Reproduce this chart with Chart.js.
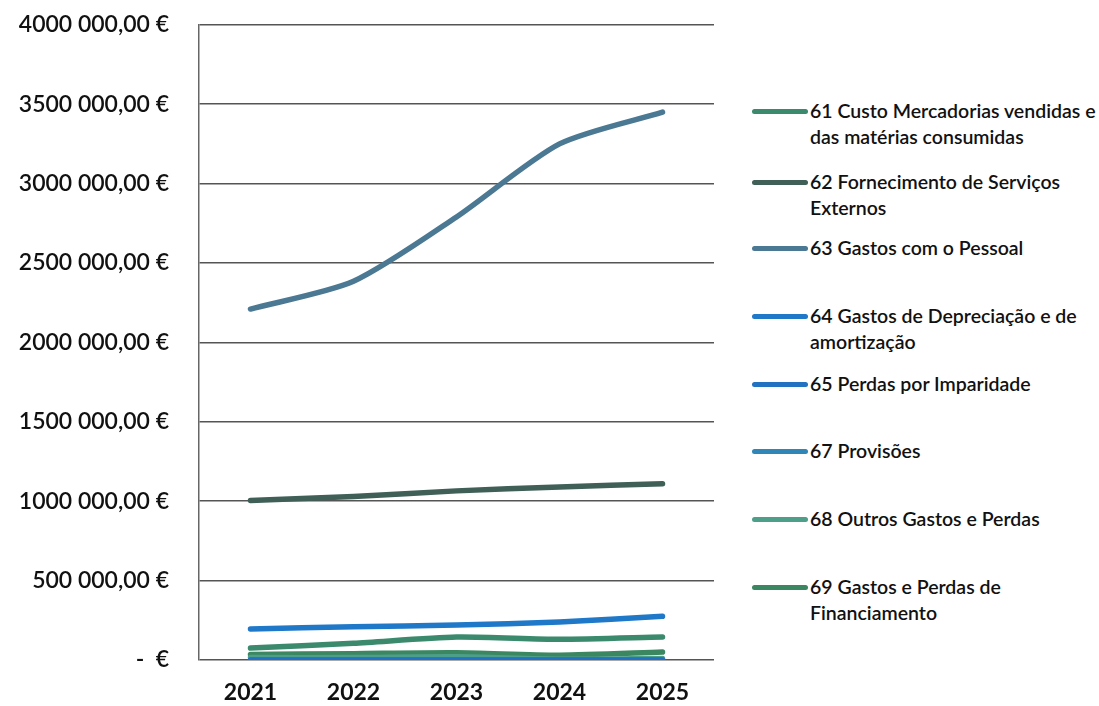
<!DOCTYPE html>
<html>
<head>
<meta charset="utf-8">
<script src="https://cdn.jsdelivr.net/npm/chart.js@4"></script>
<style>
  html, body { margin: 0; padding: 0; background: #fff; overflow: hidden; }
  #wrap { position: relative; width: 1099px; height: 706px; overflow: hidden; }
  #box { position: absolute; left: 0; top: -19px; width: 740px; height: 725px; }
  #legend { position: absolute; left: 752px; top: 0; width: 347px; font-family: Lato, sans-serif; font-size: 19.5px; font-weight: 600; color: #111; }
  .item { position: absolute; left: 0; display: flex; align-items: flex-start; white-space: nowrap; }
  .swatch { width: 56px; height: 5px; border-radius: 3px; margin-top: 11px; flex: none; }
  .lbl { line-height: 26px; margin-left: 2px; }
</style>
</head>
<body>
<div id="wrap">
  <div id="box"><canvas id="myChart" width="740" height="725"></canvas></div>
  <div id="legend"></div>
</div>
<script>
// years on the x axis
const years = ['2021', '2022', '2023', '2024', '2025'];

// cost accounts (SNC class 6), one series each
const custoMercadorias = [75000, 105000, 145000, 130000, 145000];
const fornecimentoServicos = [1005000, 1030000, 1065000, 1090000, 1110000];
const gastosPessoal = [2210000, 2385000, 2790000, 3250000, 3450000];
const depreciacao = [195000, 210000, 220000, 240000, 275000];
const perdasImparidade = [0, 0, 0, 0, 0];
const provisoes = [0, 0, 0, 0, 0];
const outrosGastos = [15000, 15000, 20000, 5000, 10000];
const financiamento = [35000, 40000, 45000, 30000, 50000];

const seriesNames = [
  ['61 Custo Mercadorias vendidas e', 'das matérias consumidas'],
  ['62 Fornecimento de Serviços', 'Externos'],
  ['63 Gastos com o Pessoal'],
  ['64 Gastos de Depreciação e de', 'amortização'],
  ['65 Perdas por Imparidade'],
  ['67 Provisões'],
  ['68 Outros Gastos e Perdas'],
  ['69 Gastos e Perdas de', 'Financiamento']
];

const seriesData = [custoMercadorias, fornecimentoServicos, gastosPessoal, depreciacao,
  perdasImparidade, provisoes, outrosGastos, financiamento];
const colors = ['#3b8a6d', '#3f5f57', '#4b7892', '#1f78c8', '#2272c2', '#3086b6', '#4e9f8a', '#3b8762'];
const legendTops = [98, 169, 235, 303, 371, 438, 506, 574];

function euro(v) {
  if (v === 0) return '-  €';
  return Math.floor(v / 1000) + ' 000,00 €';
}

const datasets = seriesData.map((d, i) => ({
  label: seriesNames[i].join(' '),
  data: d,
  borderColor: colors[i],
  backgroundColor: colors[i],
  borderWidth: 5.5,
  pointRadius: 0,
  tension: 0.25,
  borderCapStyle: 'round'
}));

const ctx = document.getElementById('myChart');
const chart = new Chart(ctx, {
  type: 'line',
  data: { labels: years, datasets: datasets },
  options: {
    responsive: false,
    animation: false,
    layout: { padding: { left: 8, right: 26, top: 4, bottom: 0 } },
    plugins: { legend: { display: false }, tooltip: { enabled: false } },
    scales: {
      x: {
        offset: true,
        grid: { display: false, drawTicks: false },
        border: { display: false },
        ticks: { padding: 19, color: '#111', font: { family: 'Lato', size: 23, weight: 'bold' } },
        afterFit: (s) => { s.height = 46; }
      },
      y: {
        min: 0,
        max: 4000000,
        ticks: {
          stepSize: 500000,
          padding: 30,
          color: '#111',
          font: { family: 'Lato', size: 23, weight: '600' },
          callback: (v) => euro(v)
        },
        grid: { color: '#555', lineWidth: 1.5, drawTicks: false },
        border: { display: true, color: '#666', width: 1.5 },
        afterFit: (s) => { s.width = 191; }
      }
    }
  }
});

// legend on the right, built from the datasets
const legend = document.getElementById('legend');
seriesNames.forEach((lines, i) => {
  const item = document.createElement('div');
  item.className = 'item';
  item.style.top = legendTops[i] + 'px';
  const sw = document.createElement('div');
  sw.className = 'swatch';
  sw.style.background = colors[i];
  const lbl = document.createElement('div');
  lbl.className = 'lbl';
  lbl.innerHTML = lines.join('<br>');
  item.appendChild(sw);
  item.appendChild(lbl);
  legend.appendChild(item);
});
</script>
</body>
</html>
